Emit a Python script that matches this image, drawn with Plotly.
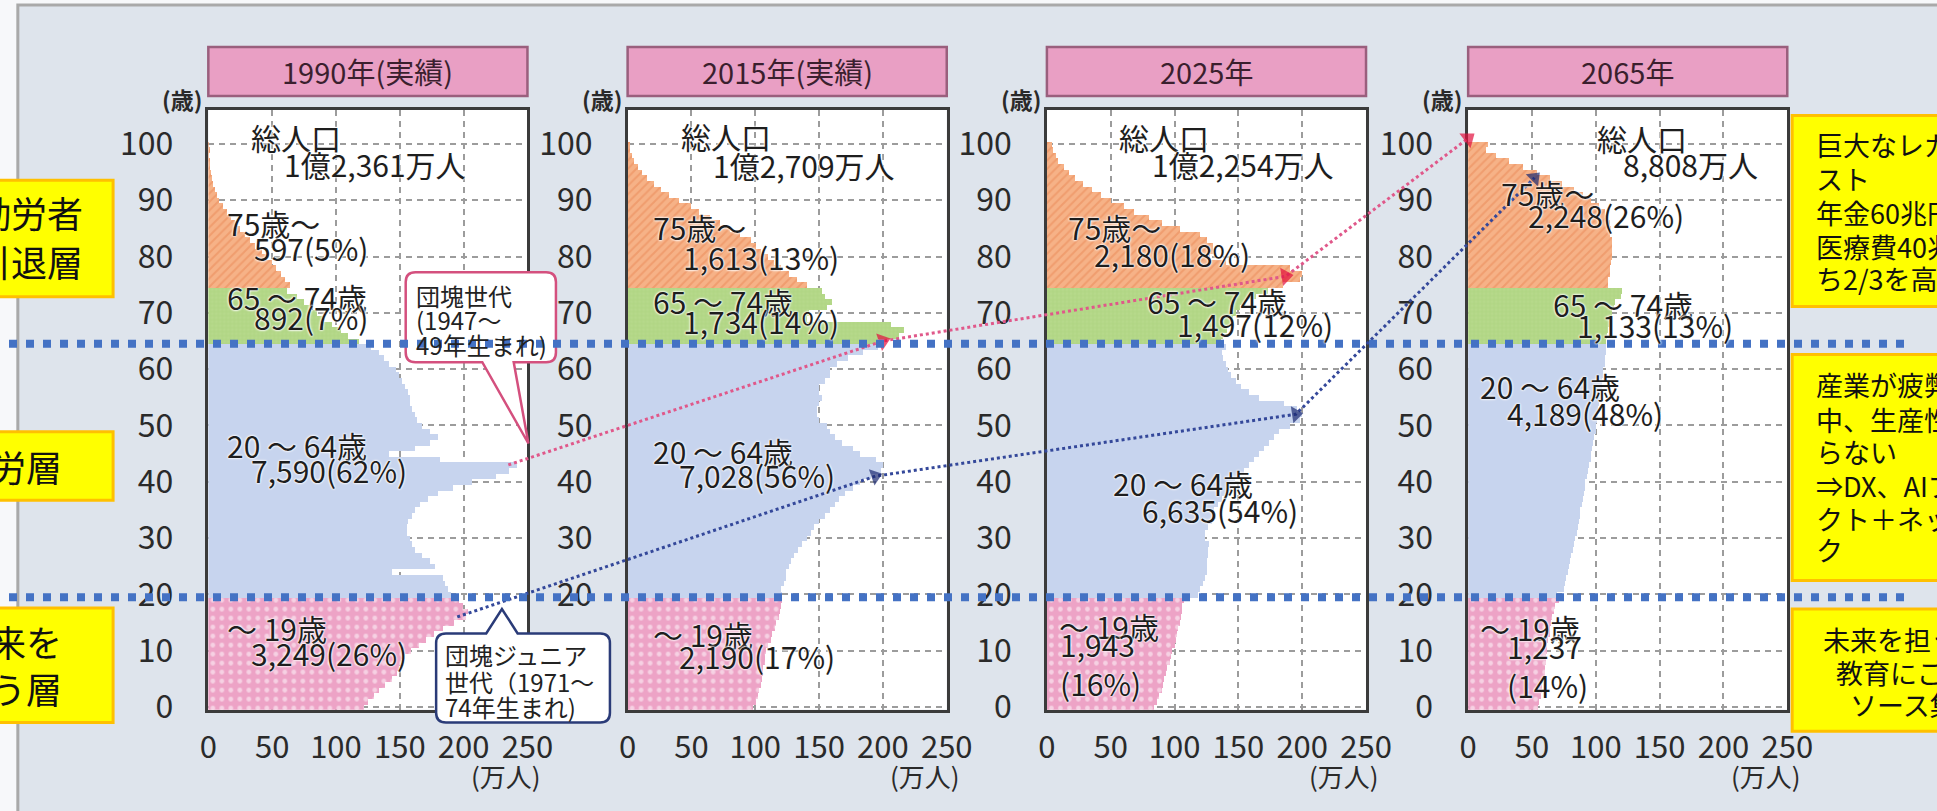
import plotly.graph_objects as go

W, H = 1937, 811
FONT = "Noto Sans CJK JP, Noto Sans, sans-serif"

PANEL_TITLES = ["1990年(実績)", "2015年(実績)", "2025年", "2065年"]
AGES = list(range(101))

# Population by single year of age (万人); index = age, last entry = 100+
POP_1990 = [
    122, 125, 130, 134, 139, 144, 148, 150, 151, 154,
    159, 165, 171, 177, 184, 193, 202, 204, 200, 197,
    190, 188, 186, 184, 144, 178, 174, 168, 162, 160,
    158, 156, 156, 157, 160, 162, 166, 172, 180, 192,
    207, 226, 236, 242, 182, 142, 162, 174, 180, 174,
    168, 164, 162, 160, 158, 158, 157, 154, 152, 150,
    147, 142, 138, 134, 128, 118, 110, 104, 97, 91,
    85, 80, 75, 70, 62, 64, 60, 57, 53, 50,
    46, 42, 37, 33, 29, 25, 21, 18, 15, 12,
    9, 7, 5.5, 4, 3, 2, 1.5, 1, 0.7, 0.8,
    0.5,
]
POP_2015 = [
    98, 100, 102, 103, 104, 105, 106, 106, 107, 107,
    108, 110, 112, 113, 115, 116, 118, 119, 120, 121,
    121, 120, 122, 124, 124, 126, 128, 130, 133, 136,
    140, 143, 146, 150, 154, 158, 162, 165, 170, 176,
    182, 190, 198, 200, 194, 182, 176, 168, 162, 158,
    156, 150, 148, 148, 150, 152, 150, 150, 154, 158,
    158, 164, 172, 184, 196, 196, 212, 216, 206, 140,
    142, 156, 160, 154, 152, 140, 132, 126, 120, 114,
    110, 104, 100, 96, 88, 80, 72, 64, 56, 49,
    40, 32, 26, 20, 15, 11, 8, 5, 3, 1,
    1,
]
POP_2025 = [
    84, 86, 88, 90, 91, 92, 93, 94, 96, 97,
    98, 100, 101, 102, 103, 104, 105, 106, 106, 107,
    118, 120, 122, 124, 125, 125, 125, 126, 126, 127,
    124, 124, 126, 129, 132, 131, 134, 137, 140, 144,
    147, 150, 154, 158, 162, 166, 170, 174, 178, 182,
    190, 198, 200, 196, 186, 166, 158, 152, 148, 144,
    142, 140, 138, 137, 140, 136, 138, 141, 144, 146,
    148, 151, 156, 164, 173, 185, 198, 200, 190, 140,
    128, 130, 130, 125, 120, 104, 90, 80, 68, 60,
    50, 42, 35, 28, 22, 17, 13, 9, 7, 5,
    4,
]
POP_2065 = [
    55, 56, 57, 58, 58, 59, 60, 60, 61, 61,
    62, 62, 63, 64, 64, 65, 66, 67, 68, 71,
    70, 75, 76, 77, 78, 79, 80, 81, 82, 83,
    84, 85, 86, 87, 88, 88, 89, 90, 91, 92,
    92, 93, 94, 95, 96, 96, 97, 98, 99, 100,
    100, 101, 102, 102, 103, 104, 104, 105, 105, 106,
    106, 107, 107, 108, 108, 108, 109, 110, 111, 112,
    113, 114, 115, 120, 121, 110, 110, 111, 111, 112,
    113, 113, 113, 113, 111, 112, 111, 110, 107, 103,
    96, 90, 83, 74, 64, 54, 43, 32, 22, 14,
    16,
]
POPS = [POP_1990, POP_2015, POP_2025, POP_2065]

TOTAL_LABELS = ["1億2,361万人", "1億2,709万人", "1億2,254万人", "8,808万人"]
OLD75_LABELS = ["597(5%)", "1,613(13%)", "2,180(18%)", "2,248(26%)"]
OLD65_LABELS = ["892(7%)", "1,734(14%)", "1,497(12%)", "1,133(13%)"]
WORK_LABELS = ["7,590(62%)", "7,028(56%)", "6,635(54%)", "4,189(48%)"]
YOUNG_LABELS = ["3,249(26%)", "2,190(17%)", "1,943<br>(16%)", "1,237<br>(14%)"]

# Cohort tracks: (value, age) in each year's pyramid
DANKAI_VALUE = [235, 200, 187, 0]
DANKAI_AGE = [43, 65, 76.5, 101]
JUNIOR_VALUE = [195, 194, 195, 52]
JUNIOR_AGE = [16, 41, 52, 94]

X_TICKS = [0, 50, 100, 150, 200, 250]
Y_TICKS = list(range(0, 101, 10))

# ---------------- layout geometry (pixels) ----------------
PANEL_LEFT = [203, 630, 1057, 1486]
PANEL_W = 325
PLOT_TOP, PLOT_BOTTOM = 112, 725
X_MAX = 250
Y_RANGE = [-0.5, 106.1]


def fx(px):
    return px / W


def fy(py):
    return 1 - py / H


Y_DOM = [fy(PLOT_BOTTOM), fy(PLOT_TOP)]

GROUPS = [
    dict(lo=0, hi=19, color="#eda3c6",
         pattern=dict(shape=".", fgcolor="#ffffff", size=9, solidity=0.22)),
    dict(lo=20, hi=64, color="#c7d4ee", pattern=None),
    dict(lo=65, hi=74, color="#b6d98b",
         pattern=dict(shape="+", fgcolor="#9cc86f", size=4, solidity=0.25)),
    dict(lo=75, hi=100, color="#f6b287",
         pattern=dict(shape="/", fgcolor="#e98856", size=6, solidity=0.35)),
]

fig = go.Figure()


def axid(i, letter):
    return letter if i == 0 else f"{letter}{i + 1}"


for i, pop in enumerate(POPS):
    for g in GROUPS:
        marker = dict(color=g["color"], line=dict(width=0))
        if g["pattern"]:
            marker["pattern"] = g["pattern"]
        fig.add_trace(go.Bar(
            x=pop[g["lo"]:g["hi"] + 1], y=AGES[g["lo"]:g["hi"] + 1],
            orientation="h", width=1, marker=marker,
            xaxis=axid(i, "x"), yaxis=axid(i, "y"),
            hoverinfo="skip", showlegend=False,
        ))


def to_overlay(i, v):
    return fx(PANEL_LEFT[i] + v / X_MAX * PANEL_W)


def cohort_trace(values, ages, line_color, head_color, head_size):
    return go.Scatter(
        x=[to_overlay(i, v) for i, v in enumerate(values)], y=ages,
        mode="lines+markers", xaxis="x5", yaxis="y5",
        line=dict(color=line_color, width=3, dash="dot"),
        marker=dict(symbol="triangle-up", angleref="previous",
                    size=[0] + [head_size] * (len(values) - 1),
                    color=head_color, line=dict(width=0)),
        hoverinfo="skip", showlegend=False, cliponaxis=False,
    )


fig.add_trace(cohort_trace(DANKAI_VALUE, DANKAI_AGE, "#e0588a", "#e3103d", 16))
fig.add_trace(cohort_trace(JUNIOR_VALUE, JUNIOR_AGE, "#34489a", "#1b2a70", 15))

layout = dict(
    width=W, height=H, autosize=False,
    margin=dict(l=0, r=0, t=0, b=0),
    paper_bgcolor="#f7f8fa", plot_bgcolor="rgba(0,0,0,0)",
    barmode="overlay", bargap=0, showlegend=False,
    font=dict(family=FONT, color="#222222"),
)

for i in range(4):
    xk = "xaxis" if i == 0 else f"xaxis{i + 1}"
    yk = "yaxis" if i == 0 else f"yaxis{i + 1}"
    left = PANEL_LEFT[i]
    layout[xk] = dict(
        domain=[fx(left), fx(left + PANEL_W)], range=[0, X_MAX],
        anchor=axid(i, "y"), tickvals=X_TICKS, ticks="",
        showgrid=True, gridcolor="#9c9c9c", gridwidth=1.5, griddash="6px,5px",
        zeroline=False, showline=True, mirror=True,
        linecolor="#3b3b3b", linewidth=2.5,
        tickfont=dict(size=31, color="#2a2a2a"), ticklabelstandoff=8,
        fixedrange=True,
    )
    layout[yk] = dict(
        domain=Y_DOM, range=Y_RANGE, anchor=axid(i, "x"),
        tickvals=Y_TICKS, ticks="",
        showgrid=True, gridcolor="#9c9c9c", gridwidth=1.5, griddash="6px,5px",
        zeroline=False, showline=True, mirror=True,
        linecolor="#3b3b3b", linewidth=2.5,
        tickfont=dict(size=32, color="#2a2a2a"), ticklabelstandoff=26,
        fixedrange=True,
    )

layout["xaxis5"] = dict(domain=[0, 1], range=[0, 1], visible=False,
                        anchor="y5", fixedrange=True)
layout["yaxis5"] = dict(domain=Y_DOM, range=Y_RANGE, visible=False,
                        anchor="x5", fixedrange=True)

shapes = []
annotations = []


def paper_text(text, x_px, y_px, size, xanchor="center", **font):
    # x is given on the full-width overlay axis so long notes may run past the edge
    return dict(text=text, xref="x5", yref="paper", x=fx(x_px), y=fy(y_px),
                xanchor=xanchor, yanchor="middle", align=xanchor,
                showarrow=False, font=dict(size=size, **font))


# outer frame
shapes.append(dict(type="rect", xref="paper", yref="paper",
                   x0=fx(9), x1=1.05, y0=-0.05, y1=fy(5),
                   fillcolor="#dee4ec", line=dict(color="#a9a9a9", width=3),
                   layer="below"))

for i in range(4):
    left = PANEL_LEFT[i]
    xr = "x domain" if i == 0 else f"x{i + 1} domain"
    yr = "y domain" if i == 0 else f"y{i + 1} domain"
    # white plotting area
    shapes.append(dict(type="rect", xref=xr, yref=yr, x0=0, x1=1, y0=0, y1=1,
                       fillcolor="white", line=dict(width=0), layer="below"))
    # pink title plate
    shapes.append(dict(type="rect", xref="paper", yref="paper",
                       x0=fx(left), x1=fx(left + PANEL_W), y0=fy(98), y1=fy(48),
                       fillcolor="#e99fc4", line=dict(color="#9a5f7d", width=2.5),
                       layer="above"))
    annotations.append(paper_text(PANEL_TITLES[i], left + PANEL_W / 2, 73,
                                  29, color="#3b1f2e"))
    annotations.append(paper_text("(歳)", left - 4, 101, 23,
                                  xanchor="right", color="#2a2a2a", weight="bold"))
    annotations.append(paper_text("(万人)", left + PANEL_W - 22, 792, 26,
                                  color="#2a2a2a"))

# in-panel labels: (text, x value, age)
PANEL_TEXT = [
    [("総人口", 32, 101.2), (TOTAL_LABELS[0], 58, 96.5),
     ("75歳～", 13, 86), (OLD75_LABELS[0], 34, 81.5),
     ("65 ～ 74歳", 13, 72.9), (OLD65_LABELS[0], 34, 69.2),
     ("20 ～ 64歳", 13, 46.6), (WORK_LABELS[0], 32, 42.1),
     ("～ 19歳", 13, 14.1), (YOUNG_LABELS[0], 32, 9.6)],
    [("総人口", 40, 101.4), (TOTAL_LABELS[1], 65, 96.3),
     ("75歳～", 18, 85.2), (OLD75_LABELS[1], 42, 80),
     ("65 ～ 74歳", 18, 72.2), (OLD65_LABELS[1], 42, 68.5),
     ("20 ～ 64歳", 18, 45.4), (WORK_LABELS[1], 39, 41.2),
     ("～ 19歳", 18, 13), (YOUNG_LABELS[1], 39, 9)],
    [("総人口", 55, 101.2), (TOTAL_LABELS[2], 81, 96.5),
     ("75歳～", 15, 85.2), (OLD75_LABELS[2], 35, 80.5),
     ("65 ～ 74歳", 77, 72.2), (OLD65_LABELS[2], 100, 68),
     ("20 ～ 64歳", 50, 39.7), (WORK_LABELS[2], 73, 35),
     ("～ 19歳", 8, 14.3), (YOUNG_LABELS[2], 9, 7.8)],
    [("総人口", 99, 101), (TOTAL_LABELS[3], 120, 96.5),
     ("75歳～", 24, 91.3), (OLD75_LABELS[3], 45, 87.4),
     ("65 ～ 74歳", 65, 71.5), (OLD65_LABELS[3], 84, 67.8),
     ("20 ～ 64歳", 8, 57), (WORK_LABELS[3], 29, 52.2),
     ("～ 19歳", 8, 14.1), (YOUNG_LABELS[3], 29, 7.4)],
]
HALO = "0px 0px 2px white, 0px 0px 2px white, 0px 0px 3px white"
for i, items in enumerate(PANEL_TEXT):
    for text, xv, age in items:
        annotations.append(dict(
            text=text, x=xv, y=age, xref=axid(i, "x"), yref=axid(i, "y"),
            xanchor="left", yanchor="middle", align="left", showarrow=False,
            font=dict(size=30, color="#1e1e1e", shadow=HALO),
        ))


def pt(x, y):
    return f"{fx(x):.5f},{fy(y):.5f}"


def rounded_box(x0, y0, x1, y1, r, tail_bottom=None, tail_top=None):
    p = [f"M {pt(x0 + r, y0)}"]
    if tail_top:
        a, apex, b = tail_top
        p += [f"L {pt(a, y0)}", f"L {pt(*apex)}", f"L {pt(b, y0)}"]
    p += [f"L {pt(x1 - r, y0)}", f"Q {pt(x1, y0)} {pt(x1, y0 + r)}",
          f"L {pt(x1, y1 - r)}", f"Q {pt(x1, y1)} {pt(x1 - r, y1)}"]
    if tail_bottom:
        b, apex, a = tail_bottom
        p += [f"L {pt(b, y1)}", f"L {pt(*apex)}", f"L {pt(a, y1)}"]
    p += [f"L {pt(x0 + r, y1)}", f"Q {pt(x0, y1)} {pt(x0, y1 - r)}",
          f"L {pt(x0, y0 + r)}", f"Q {pt(x0, y0)} {pt(x0 + r, y0)}", "Z"]
    return " ".join(p)


# callout: baby-boom generation
shapes.append(dict(type="path", xref="paper", yref="paper",
                   path=rounded_box(404, 278, 557, 370, 10,
                                    tail_bottom=(514, (529, 453), 482)),
                   fillcolor="white", line=dict(color="#d4507e", width=2.5),
                   layer="above"))
for text, y in [("団塊世代", 302), ("(1947～", 326), ("49年生まれ)", 352)]:
    annotations.append(paper_text(text, 412, y, 24, xanchor="left",
                                  color="#222222"))

# callout: second baby-boom generation
shapes.append(dict(type="path", xref="paper", yref="paper",
                   path=rounded_box(435, 647, 612, 738, 10,
                                    tail_top=(486, (502, 622), 518)),
                   fillcolor="white", line=dict(color="#2a3b78", width=2.5),
                   layer="above"))
for text, y in [("団塊ジュニア", 669), ("世代（1971～", 696), ("74年生まれ)", 722)]:
    annotations.append(paper_text(text, 442, y, 24, xanchor="left",
                                  color="#222222"))

# side notes
YELLOW = dict(fillcolor="#ffff00", line=dict(color="#ffc000", width=3))
for y0, y1 in [(184, 303), (441, 511), (621, 738)]:
    shapes.append(dict(type="rect", xref="paper", yref="paper",
                       x0=-0.05, x1=fx(106), y0=fy(y1), y1=fy(y0),
                       layer="above", **YELLOW))
for y0, y1 in [(118, 313), (362, 593), (622, 747)]:
    shapes.append(dict(type="rect", xref="paper", yref="paper",
                       x0=fx(1816), x1=1.1, y0=fy(y1), y1=fy(y0),
                       layer="above", **YELLOW))

# left notes: (line, right edge px, centre row px)
LEFT_NOTES = [("非勤労者", 77, 217), ("引退層", 77, 267), ("勤労層", 56, 476),
              ("未来を", 56, 655), ("担う層", 56, 703)]
for text, xr_px, y in LEFT_NOTES:
    annotations.append(paper_text(text, xr_px, y, 36, xanchor="right",
                                  color="#111111"))

# right notes: (line, left edge px, row px); the last note is centred line by line
RIGHT_NOTES = [
    ("巨大なレガシーコ", 1838, 148), ("スト", 1838, 182),
    ("年金60兆円、", 1838, 217), ("医療費40兆円のう", 1838, 252),
    ("ち2/3を高齢者", 1838, 284),
    ("産業が疲弊する", 1838, 393), ("中、生産性が上が", 1838, 428),
    ("らない", 1838, 461), ("⇒DX、AIプロダ", 1838, 496),
    ("クト＋ネットワー", 1838, 530), ("ク", 1838, 561),
    ("未来を担う層の", 1845, 653), ("教育にこそリ", 1859, 687),
    ("ソース集中", 1873, 720),
]
for text, x_px, y in RIGHT_NOTES:
    annotations.append(paper_text(text, x_px, y, 27, xanchor="left",
                                  color="#111111"))

# dotted separators between the three age bands
for age in (64.5, 19.5):
    shapes.append(dict(type="line", xref="paper", yref="y", x0=0, x1=1,
                       y0=age, y1=age, layer="above",
                       line=dict(color="#4472c4", width=8, dash="8px,9px")))

layout["shapes"] = shapes
layout["annotations"] = annotations
fig.update_layout(**layout)

fig.write_html("out.html")
